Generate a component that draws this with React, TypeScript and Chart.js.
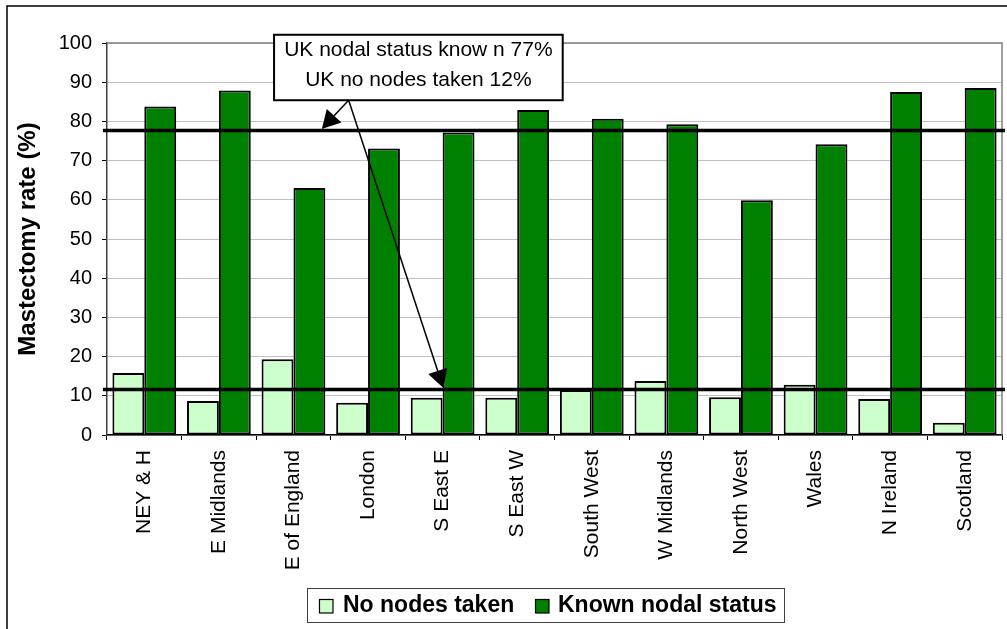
import React, { useEffect, useRef } from 'react';
import { Chart, registerables } from 'chart.js';

Chart.register(...registerables);

const categories = [
  'NEY & H', 'E Midlands', 'E of England', 'London', 'S East E', 'S East W',
  'South West', 'W Midlands', 'North West', 'Wales', 'N Ireland', 'Scotland',
];
const noNodesTaken = [15.8, 8.7, 19.3, 8.2, 9.5, 9.5, 11.5, 13.8, 9.6, 12.8, 9.2, 3.1];
const knownNodalStatus = [83.8, 87.9, 63.0, 73.1, 77.2, 82.9, 80.7, 79.3, 59.9, 74.2, 87.5, 88.5];
const seriesNames = ['No nodes taken', 'Known nodal status'];
const seriesColors = ['#CCFFCC', '#008000'];
const ukKnownNodal = 77.7;
const ukNoNodes = 11.6;
const annotationText = ['UK nodal status know n 77%', 'UK no nodes taken 12%'];
const yAxisTitle = 'Mastectomy rate (%)';
const yMin = 0;
const yMax = 100;
const yStep = 10;

const FONT = '"Liberation Sans", Arial, sans-serif';

function drawArrow(ctx: CanvasRenderingContext2D, x0: number, y0: number, x1: number, y1: number) {
  const ang = Math.atan2(y1 - y0, x1 - x0);
  const len = 18;
  const hw = 10;
  const bx = x1 - len * Math.cos(ang);
  const by = y1 - len * Math.sin(ang);
  ctx.beginPath();
  ctx.moveTo(x0, y0);
  ctx.lineTo(bx, by);
  ctx.stroke();
  ctx.beginPath();
  ctx.moveTo(x1, y1);
  ctx.lineTo(bx + hw * Math.sin(ang), by - hw * Math.cos(ang));
  ctx.lineTo(bx - hw * Math.sin(ang), by + hw * Math.cos(ang));
  ctx.closePath();
  ctx.fill();
}

const overlayPlugin = {
  id: 'overlay',
  beforeDraw(chart: any) {
    const { ctx, width, height } = chart;
    ctx.save();
    ctx.fillStyle = '#ffffff';
    ctx.fillRect(0, 0, width, height);
    ctx.strokeStyle = '#000000';
    ctx.lineWidth = 1.5;
    ctx.strokeRect(7, 6, width + 50, height + 50);
    ctx.restore();
  },
  afterDatasetsDraw(chart: any) {
    const { ctx, chartArea: a, scales } = chart;
    const x = scales.x;
    const y = scales.y;
    ctx.save();
    // plot area border (top/right)
    ctx.strokeStyle = '#808080';
    ctx.lineWidth = 1.5;
    ctx.beginPath();
    ctx.moveTo(a.left, a.top);
    ctx.lineTo(a.right, a.top);
    ctx.lineTo(a.right, a.bottom);
    ctx.stroke();

    // reference lines
    ctx.strokeStyle = '#000000';
    ctx.lineWidth = 3.5;
    [ukKnownNodal, ukNoNodes].forEach((v) => {
      const py = y.getPixelForValue(v);
      ctx.beginPath();
      ctx.moveTo(a.left - 4, py);
      ctx.lineTo(a.right + 3, py);
      ctx.stroke();
    });

    // annotation box
    const bl = x.getPixelForValue(1.74);
    const br = x.getPixelForValue(5.61);
    const bt = y.getPixelForValue(102.1);
    const bb = y.getPixelForValue(85.4);

    // arrows
    ctx.strokeStyle = '#000000';
    ctx.fillStyle = '#000000';
    ctx.lineWidth = 1.5;
    const sx = x.getPixelForValue(2.74);
    const sy = bb;
    drawArrow(ctx, sx, sy, x.getPixelForValue(2.38), y.getPixelForValue(ukKnownNodal) - 1.5);
    drawArrow(ctx, sx, sy, x.getPixelForValue(4.01), y.getPixelForValue(ukNoNodes) - 1.5);

    ctx.fillStyle = '#ffffff';
    ctx.fillRect(bl, bt, br - bl, bb - bt);
    ctx.strokeStyle = '#000000';
    ctx.lineWidth = 2;
    ctx.strokeRect(bl, bt, br - bl, bb - bt);
    ctx.fillStyle = '#000000';
    ctx.font = `21px ${FONT}`;
    ctx.textAlign = 'center';
    ctx.textBaseline = 'middle';
    const cx = (bl + br) / 2;
    ctx.fillText(annotationText[0], cx, bt + 15);
    ctx.fillText(annotationText[1], cx, bt + 45);
    ctx.restore();
  },
  afterDraw(chart: any) {
    const { ctx } = chart;
    ctx.save();
    // legend
    ctx.strokeStyle = '#404040';
    ctx.lineWidth = 1;
    ctx.strokeRect(307.5, 588.5, 477, 34);
    const items = [
      { mx: 319, tx: 343 },
      { mx: 535, tx: 558 },
    ];
    ctx.font = `bold 23px ${FONT}`;
    ctx.textAlign = 'left';
    ctx.textBaseline = 'middle';
    items.forEach((it, i) => {
      ctx.fillStyle = seriesColors[i];
      ctx.fillRect(it.mx, 599, 14, 14);
      ctx.strokeStyle = '#000000';
      ctx.lineWidth = 1.2;
      ctx.strokeRect(it.mx + 0.5, 599.5, 13.5, 13.5);
      ctx.fillStyle = '#000000';
      ctx.fillText(seriesNames[i], it.tx, 606);
    });
    ctx.restore();
  },
};

export default function App() {
  const canvasRef = useRef<HTMLCanvasElement | null>(null);

  useEffect(() => {
    if (!canvasRef.current) return;
    Chart.defaults.font.family = FONT;
    const chart = new Chart(canvasRef.current, {
      type: 'bar',
      data: {
        labels: categories,
        datasets: [
          {
            label: seriesNames[0],
            data: noNodesTaken,
            backgroundColor: seriesColors[0],
            borderColor: '#000000',
            borderWidth: 2,
            borderSkipped: false,
            categoryPercentage: 0.855,
            barPercentage: 1.0,
          },
          {
            label: seriesNames[1],
            data: knownNodalStatus,
            backgroundColor: seriesColors[1],
            borderColor: '#000000',
            borderWidth: 2,
            borderSkipped: false,
            categoryPercentage: 0.855,
            barPercentage: 1.0,
          },
        ],
      },
      options: {
        responsive: false,
        animation: false,
        devicePixelRatio: 1,
        layout: { padding: { left: 0, top: 43, right: 5, bottom: 0 } },
        plugins: {
          legend: { display: false },
          tooltip: { enabled: false },
          title: { display: false },
        },
        scales: {
          x: {
            grid: {
              display: true,
              drawOnChartArea: false,
              drawTicks: true,
              tickLength: 5,
              color: '#000000',
              offset: true,
            },
            border: { display: true, color: '#000000', width: 1.5 },
            ticks: {
              autoSkip: false,
              maxRotation: 90,
              minRotation: 90,
              padding: 10,
              color: '#000000',
              font: { size: 21, family: FONT },
            },
            afterFit: (scale: any) => {
              scale.height = 194;
            },
          },
          y: {
            min: yMin,
            max: yMax,
            grid: {
              color: '#C0C0C0',
              lineWidth: 1,
              tickLength: 5,
              tickColor: '#000000',
            },
            border: { display: true, color: '#404040', width: 1.5 },
            ticks: {
              stepSize: yStep,
              padding: 10,
              color: '#000000',
              font: { size: 20, family: FONT },
            },
            title: {
              display: true,
              text: yAxisTitle,
              color: '#000000',
              font: { size: 24, weight: 'bold', family: FONT },
              padding: { top: 13.6, bottom: 0 },
            },
            afterFit: (scale: any) => {
              scale.width = 107;
            },
          },
        },
      },
      plugins: [overlayPlugin],
    });
    return () => chart.destroy();
  }, []);

  return (
    <div style={{ position: 'fixed', left: 0, top: 0, width: 1007, height: 629, background: '#fff' }}>
      <canvas ref={canvasRef} width={1007} height={629} style={{ display: 'block' }} />
    </div>
  );
}
